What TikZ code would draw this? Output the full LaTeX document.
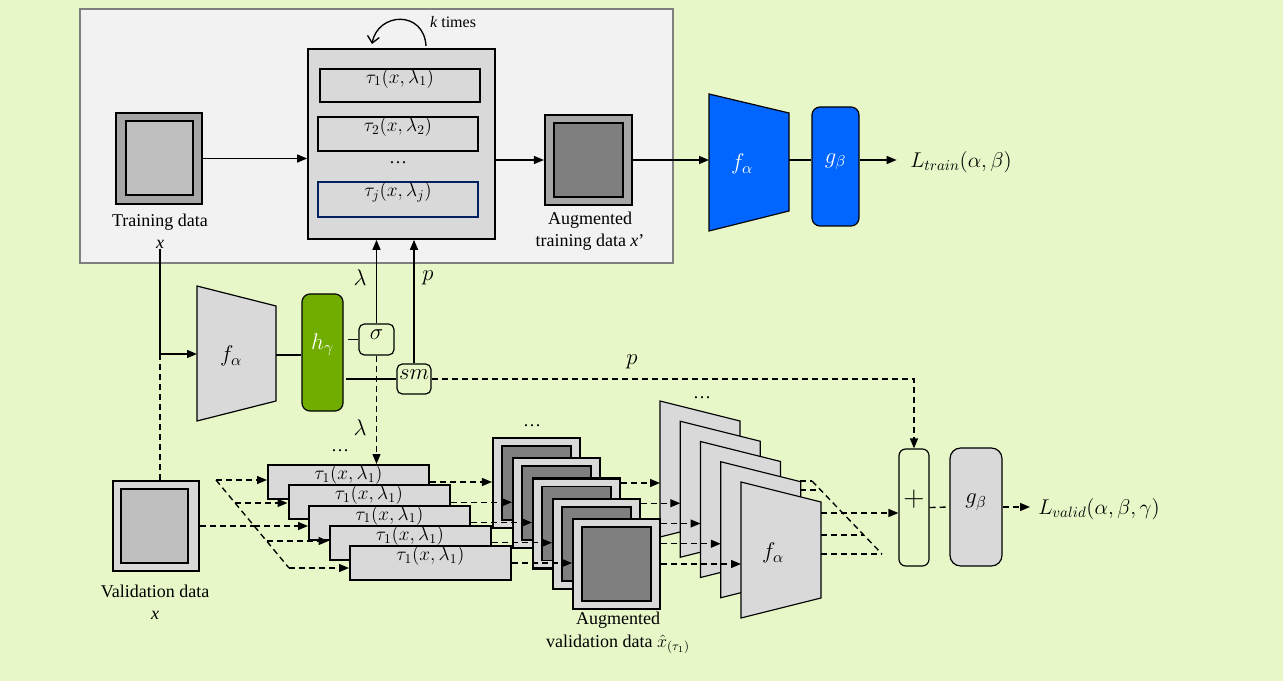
\documentclass[tikz,border=0pt]{standalone}
\usepackage{fix-cm}
\usepackage{fontspec}
\setmainfont{Liberation Serif}
\usetikzlibrary{arrows.meta,fit,positioning}
\definecolor{bgc}{RGB}{231,247,199}
\definecolor{panelc}{RGB}{242,242,242}
\definecolor{framec}{RGB}{127,127,127}
\definecolor{lightc}{RGB}{217,217,217}
\definecolor{midc}{RGB}{191,191,191}
\definecolor{darkc}{RGB}{166,166,166}
\definecolor{deepc}{RGB}{127,127,127}
\definecolor{bluec}{RGB}{0,102,255}
\definecolor{greenc}{RGB}{112,173,0}
\definecolor{navyc}{RGB}{0,32,96}
\begin{document}
\begin{tikzpicture}[x=0.75pt, y=-0.75pt, font=\fontsize{13.5}{16.5}\selectfont,
    frame/.style={draw, line width=1.6pt, inner sep=0pt},
    tbox/.style={draw, fill=lightc, line width=1.5pt, inner sep=0pt, font=\fontsize{14.5}{16}\selectfont},
    rbox/.style={draw, line width=0.9pt, rounded corners=6pt, inner sep=0pt},
    sym/.style={font=\fontsize{17}{19}\selectfont},
    loss/.style={right, inner sep=0pt, font=\fontsize{16}{18}\selectfont},
    trap/.style={draw, line width=0.9pt},
    conn/.style={line width=1pt, -{Triangle[length=7.5pt,width=6pt]}},
    dline/.style={line width=1pt, dash pattern=on 4.5pt off 3pt},
    dconn/.style={conn, dline}]
  \fill[bgc] (0,0) rectangle (1283,681);
  % training branch
  \node[fit={(80,9) (673,263)}, draw=framec, fill=panelc, line width=1.1pt, inner sep=0pt] (panel) {};
  \node[frame, fill=darkc, fit={(116,113) (202,204)}] (trdata) {};
  \node[frame, line width=1.4pt, fill=midc, fit={(126,121) (193,195)}] (trdatain) {};
  \node[align=center, inner sep=0pt] (trlab) at (160,231) {Training data\\\textit{x}};
  \node[tbox, fill=lightc, line width=1.3pt, font=\normalfont, fit={(308,49) (495,239)}] (tfbox) {};
  \node[tbox, fit={(320,69) (480,102)}] (t1) {$\tau_1(x,\lambda_1)$};
  \node[tbox, fit={(318,117) (478,151)}] (t2) {$\tau_2(x,\lambda_2)$};
  \node (tdots) at (398,163) {\dots};
  \node[tbox, draw=navyc, fit={(318,182) (478,217)}] (tj) {$\tau_j(x,\lambda_j)$};
  \coordinate (loopa) at (426,46);
  \coordinate (loopb) at (372,44);
  \draw[line width=1pt, -{Straight Barb[length=5pt,width=9pt]}] (loopa) .. controls (424,10) and (378,12) .. (loopb);
  \node[font=\fontsize{12}{14}\selectfont] (ktimes) at (453,22) {\textit{k} times};
  \node[frame, fill=darkc, fit={(545,115) (632,205)}] (aug) {};
  \node[frame, line width=1.4pt, fill=deepc, fit={(554,123) (623,197)}] (augin) {};
  \node[align=center, inner sep=0pt] (auglab) at (590,231) {Augmented\\training data \textit{x}’};
  \draw[conn] (trdata.east) -- (trdata.east -| tfbox.west);
  \draw[conn] (aug.west -| tfbox.east) -- (aug.west);
  % encoder and head for training
  \draw[trap, fill=bluec] (709,94) -- (789,113) -- (789,211) -- (709,231) -- cycle;
  \node[sym, text=white] (fatr) at (742,164) {$f_\alpha$};
  \coordinate (fatrin) at (709,160);
  \coordinate (fatrout) at (789,160);
  \node[rbox, sym, fill=bluec, text=white, fit={(812,107) (859,226)}] (gtr) {$g_\beta$};
  \node[loss] (ltrain) at (910,162) {$L_{train}(\alpha,\beta)$};
  \draw[conn] (aug.east |- fatrin) -- (fatrin);
  \draw[line width=1pt] (fatrout) -- (fatrout -| gtr.west);
  \draw[conn] (gtr.east |- fatrout) -- ([xshift=-10pt]fatrout -| ltrain.west);
  % policy branch
  \draw[trap, fill=lightc] (197,286) -- (276,306) -- (276,401) -- (197,421) -- cycle;
  \node[sym] (fah) at (231,356) {$f_\alpha$};
  \coordinate (fhin) at (197,354);
  \coordinate (fhout) at (276,355);
  \node[rbox, sym, fill=greenc, text=white, fit={(302,294) (343,411)}] (hg) {$h_\gamma$};
  \node[rbox, sym, rounded corners=4pt, fit={(359,324) (394,355)}] (sig) {$\sigma$};
  \node[rbox, sym, rounded corners=4pt, fit={(397,364) (431,394)}] (sm) {$sm$};
  \draw[conn] (trlab.south) |- (fhin);
  \draw[line width=1pt] (fhout) -- (fhout -| hg.west);
  \draw[line width=1pt] ([xshift=3pt]hg.east |- sig.west) -- (sig.west);
  \draw[line width=1pt] ([xshift=2pt]hg.east |- sm.west) -- (sm.west);
  \draw[conn] (sig.north) -- (sig.north |- tfbox.south);
  \draw[conn] (sm.north) -- (sm.north |- tfbox.south);
  \node[sym] (lamup) at (360,278) {$\lambda$};
  \node[sym] (pup) at (428,278) {$p$};
  % validation branch
  \node[frame, fill=lightc, fit={(113,481) (199,571)}] (vdata) {};
  \node[frame, line width=1.4pt, fill=midc, fit={(121,489) (188,563)}] (vdatain) {};
  \node[align=center, inner sep=0pt] (vlab) at (155,602) {Validation data\\\textit{x}};
  \draw[dline] (trlab.south |- fhin) -- (trlab.south |- vdata.north);
  \foreach \i in {1,...,5}{
    \pgfmathsetmacro{\dx}{20.5*(\i-1)}
    \pgfmathsetmacro{\dy}{20.25*(\i-1)}
    \node[tbox, fit={({268+\dx},{465+\dy}) ({429+\dx},{499+\dy})}] (s\i) {$\tau_1(x,\lambda_1)$};
  }
  \node (sdots) at (340,451) {\dots};
  \foreach \i/\ly in {1/480, 2/503, 3/526, 4/541, 5/568}{
    \coordinate (lsp\i) at ({216+(\ly-480)*73/88},\ly);
    \draw[dconn] (lsp\i) -- (lsp\i -| s\i.west);
  }
  \draw[dline] (lsp1) -- (lsp5);
  \draw[dline] (vdata.east) -- (lsp3);
  \draw[dconn] (sig.south) -- (sig.south |- s1.north);
  \node[sym] (lamdn) at (360,428) {$\lambda$};
  % augmented copies and encoders
  \foreach \i/\ly in {1/481, 2/490, 3/513, 4/535, 5/554}{
    \pgfmathsetmacro{\dx}{20*(\i-1)}
    \pgfmathsetmacro{\ex}{20.25*(\i-1)}
    \pgfmathsetmacro{\dy}{20.25*(\i-1)}
    \node[frame, fill=lightc, fit={({493+\dx},{438+\dy}) ({580+\dx},{528+\dy})}] (im\i) {};
    \node[frame, line width=1.4pt, fill=deepc, fit={({502+\dx},{446+\dy}) ({571+\dx},{520+\dy})}] (imin\i) {};
    \draw[trap, fill=lightc] ({660+\ex},{401+\dy}) -- ({740+\ex},{421+\dy}) -- ({740+\ex},{517+\dy}) -- ({660+\ex},{537+\dy}) -- cycle;
    \coordinate (fvl\i) at ({660+\ex},{483+\dy});
    \coordinate (fvr\i) at ({740+\ex},\ly);
    \coordinate (rsp\i) at ({812+(\ly-481)*70/73},\ly);
    \draw[dconn] (im\i.east) -- (im\i.east -| fvl\i);
    \draw[dline] (fvr\i) -- (rsp\i);
  }
  \foreach \i in {1,...,5}{
    \draw[dconn] (s\i.east) -- (s\i.east -| im\i.west);
  }
  \node (imdots) at (532,426) {\dots};
  \node (fvdots) at (702,398) {\dots};
  \node[sym] (fv) at (773,553) {$f_\alpha$};
  \node[align=center, inner sep=0pt] (avlab) at (618,633) {Augmented\\[1pt]validation data $\hat{x}_{(\tau_1)}$};
  \draw[dline] (rsp1) -- (rsp5);
  % merging and validation loss
  \node[rbox, rounded corners=5pt, font=\fontsize{22}{24}\selectfont, fit={(899,449) (929,566)}] (plus) {$+$};
  \node[rbox, sym, rounded corners=8pt, fill=lightc, fit={(950,448) (1002,566)}] (gv) {$g_\beta$};
  \node[loss] (lvalid) at (1038,509) {$L_{valid}(\alpha,\beta,\gamma)$};
  \coordinate (fvout) at (821,513);
  \draw[dconn] (fvout) -- (fvout -| plus.west);
  \draw[dline] (plus.east) -- (gv.west);
  \draw[dconn] (gv.east) -- ([xshift=-6pt]gv.east -| lvalid.west);
  \draw[dconn] (sm.east) -| (plus.north);
  \node[sym] (pdn) at (632,362) {$p$};
\end{tikzpicture}
\end{document}
